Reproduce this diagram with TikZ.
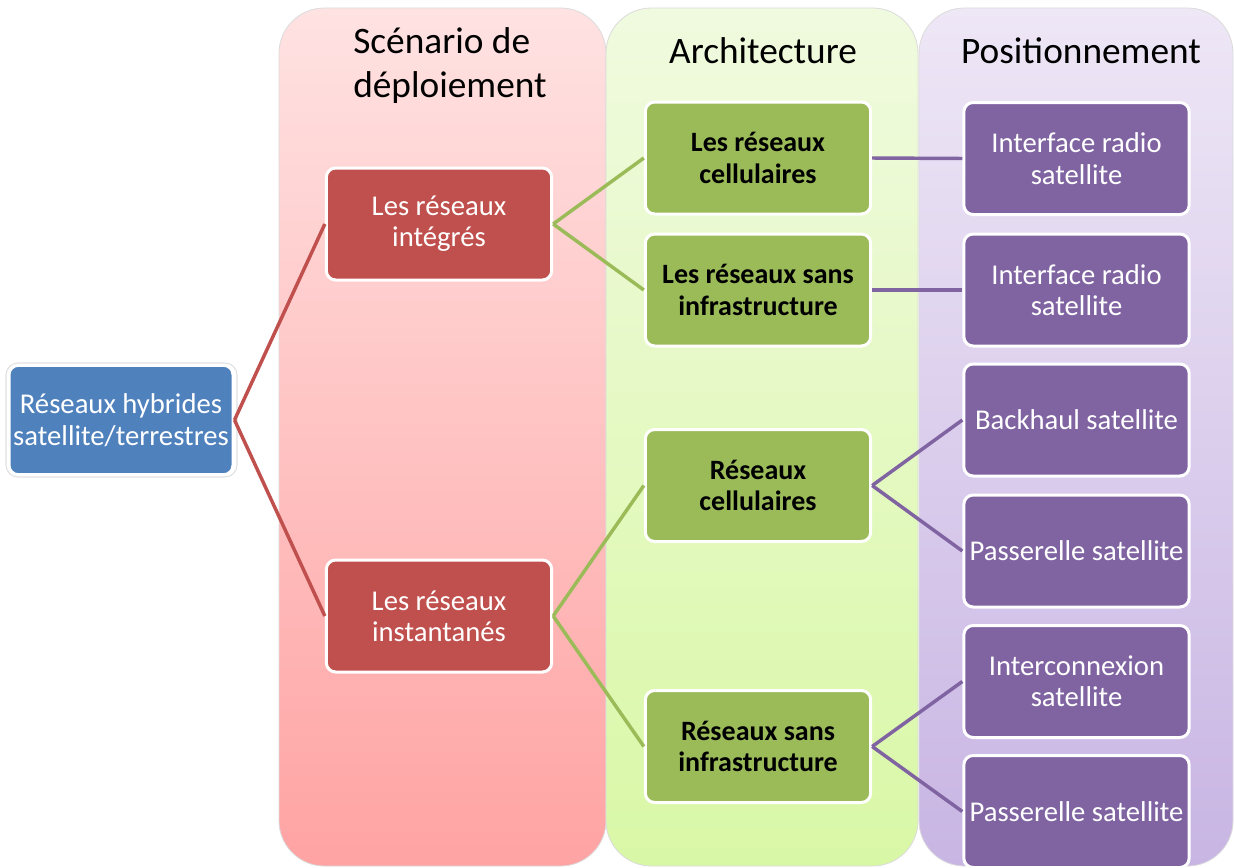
\documentclass[tikz,border=0pt]{standalone}
\usepackage{fontspec}
\setmainfont{Carlito}
\definecolor{cred}{HTML}{C0504D}
\definecolor{cgreen}{HTML}{9BBB59}
\definecolor{cpurple}{HTML}{8064A2}
\definecolor{cblue}{HTML}{4F81BD}
\definecolor{pinktop}{HTML}{FFE2E2}
\definecolor{pinkbot}{HTML}{FFA3A3}
\definecolor{greentop}{HTML}{F0FADF}
\definecolor{greenbot}{HTML}{D9F8A6}
\definecolor{purptop}{HTML}{EEE7F6}
\definecolor{purpbot}{HTML}{C8B5E3}
\begin{document}
\begin{tikzpicture}[x=0.75pt,y=-0.75pt,
  col/.style={rounded corners=34pt, draw=black!14, line width=0.6pt},
  hdr/.style={font=\fontsize{28}{33}\selectfont, text=black, inner sep=0pt},
  box/.style={rounded corners=7pt, draw=white, line width=2.25pt,
    minimum width=169pt, minimum height=84pt, align=center, inner sep=1pt,
    font=\fontsize{21.5}{23.5}\selectfont},
  rbox/.style={box, fill=cred, text=white},
  gbox/.style={box, fill=cgreen, text=black, font=\fontsize{21}{23.5}\selectfont\bfseries},
  pbox/.style={box, fill=cpurple, text=white},
  bbox/.style={box, fill=cblue, text=white, draw=white},
  rline/.style={draw=cred, line width=2.6pt},
  gline/.style={draw=cgreen, line width=2.6pt},
  pline/.style={draw=cpurple, line width=2.6pt}]
\useasboundingbox (0,0) rectangle (1234,867);
\fill[white] (0,0) rectangle (1234,867);
% columns
\path[col, top color=pinktop, bottom color=pinkbot] (279,8) rectangle (606,866);
\path[col, top color=greentop, bottom color=greenbot] (606,8) rectangle (918,866);
\path[col, top color=purptop, bottom color=purpbot] (919,8) rectangle (1233,866);
% headers
\node[hdr, anchor=north west, align=left] (h1) at (353,27) {Scénario de\\déploiement};
\node[hdr] (h2) at (763,51) {Architecture};
\node[hdr] (h3) at (1081,51) {Positionnement};
% nodes
\draw[black!12, line width=0.8pt, rounded corners=9pt] (6,363) rectangle (237,477);
\node[bbox, minimum width=168pt, minimum height=82pt] (root) at (121,420) {Réseaux hybrides\\satellite/terrestres};
\node[rbox] (r1) at (439,224) {Les réseaux\\intégrés};
\node[rbox] (r2) at (439,616) {Les réseaux\\instantanés};
\node[gbox] (g1) at (758,158) {Les réseaux\\cellulaires};
\node[gbox] (g2) at (758,290) {Les réseaux sans\\infrastructure};
\node[gbox] (g3) at (758,485.5) {Réseaux\\cellulaires};
\node[gbox] (g4) at (758,746.5) {Réseaux sans\\infrastructure};
\node[pbox] (p1) at (1076.5,158.5) {Interface radio\\satellite};
\node[pbox] (p2) at (1076.5,290) {Interface radio\\satellite};
\node[pbox] (p3) at (1076.5,420) {Backhaul satellite};
\node[pbox] (p4) at (1076.5,551) {Passerelle satellite};
\node[pbox] (p5) at (1076.5,681.5) {Interconnexion\\satellite};
\node[pbox] (p6) at (1076.5,811.5) {Passerelle satellite};
% connectors
\draw[rline] (root.east) -- (r1.west);
\draw[rline] (root.east) -- (r2.west);
\draw[gline] (r1.east) -- (g1.west);
\draw[gline] (r1.east) -- (g2.west);
\draw[gline] (r2.east) -- (g3.west);
\draw[gline] (r2.east) -- (g4.west);
\draw[pline] (g1.east) -- (p1.west);
\draw[pline] (g2.east) -- (p2.west);
\draw[pline] (g3.east) -- (p3.west);
\draw[pline] (g3.east) -- (p4.west);
\draw[pline] (g4.east) -- (p5.west);
\draw[pline] (g4.east) -- (p6.west);
\end{tikzpicture}
\end{document}
